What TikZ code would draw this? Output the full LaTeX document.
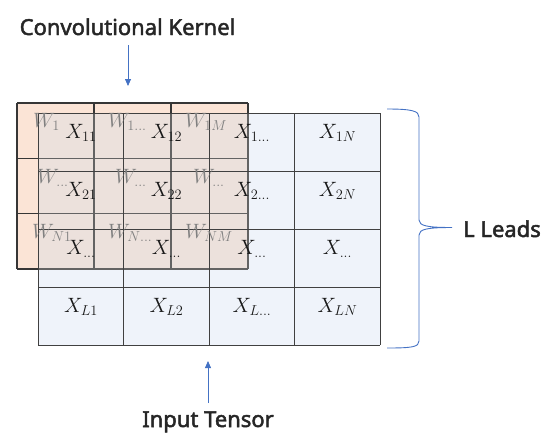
\documentclass[tikz,border=0pt]{standalone}
\usepackage{fontspec}
\newfontfamily\labfont{Noto Sans}[FakeBold=2.2]
\usetikzlibrary{arrows.meta}
\definecolor{tblue}{HTML}{EFF3FA}
\definecolor{korange}{HTML}{FBE4D6}
\definecolor{overlapc}{HTML}{ECE1DC}
\definecolor{accent}{HTML}{4472C4}
\definecolor{gridline}{HTML}{404040}
\definecolor{gridsoft}{HTML}{636363}
\definecolor{wgray}{HTML}{808080}
\begin{document}
\begin{tikzpicture}[x=1pt,y=-1pt,
  lab/.style={font=\labfont\fontsize{22}{26}\selectfont, text=black!85, inner sep=0pt},
  xlab/.style={font=\fontsize{20}{24}\selectfont, text=black!90, inner sep=0pt, anchor=base},
  wlab/.style={font=\fontsize{20}{24}\selectfont, text=wgray, inner sep=0pt, anchor=base west},
  arr/.style={draw=accent, line width=0.8pt, -{Triangle[length=7pt,width=6pt]}},
  gline/.style={draw=gridline, line width=0.9pt},
  kline/.style={draw=gridline!85!black, line width=1.2pt},
  ksoft/.style={draw=gridsoft, line width=1.2pt},
]
\useasboundingbox (0,0) rectangle (553,442);
% input tensor
\fill[tblue] (38,113) rectangle (380,345);
% kernel
\fill[korange] (17,103) rectangle (248,269);
\fill[overlapc] (38,113) rectangle (248,269);
% kernel grid lines (dark outside the overlap, softer inside)
\foreach \x in {17,94,171,248} \draw[kline] (\x,103) -- (\x,269);
\foreach \y in {103,158.33,213.67,269} \draw[kline] (17,\y) -- (248,\y);
\begin{scope}
\clip (38.6,113.6) rectangle (380,269);
\foreach \x in {94,171,248} \draw[ksoft] (\x,103) -- (\x,269);
\foreach \y in {158.33,213.67,269} \draw[ksoft] (17,\y) -- (248,\y);
\end{scope}
% input grid lines
\foreach \x in {38,123.5,209,294.5,380} \draw[gline] (\x,113) -- (\x,345);
\foreach \y in {113,171,229,287,345} \draw[gline] (38,\y) -- (380,\y);
% W labels
\node[wlab] (w11) at (33,127) {$W_{1}$};
\node[wlab] (w12) at (108,127) {$W_{1\ldots}$};
\node[wlab] (w13) at (185,127) {$W_{1M}$};
\node[wlab] (w21) at (37,183) {$W_{\ldots}$};
\node[wlab] (w22) at (115,183) {$W_{\ldots}$};
\node[wlab] (w23) at (193,183) {$W_{\ldots}$};
\node[wlab] (w31) at (32,238) {$W_{N1}$};
\node[wlab] (w32) at (108,238) {$W_{N\ldots}$};
\node[wlab] (w33) at (185,238) {$W_{NM}$};
% X labels
\foreach \t [count=\k from 0] in {{11},{12},{1\ldots},{1N},{21},{22},{2\ldots},{2N},{\ldots},{\ldots},{\ldots},{\ldots},{L1},{L2},{L\ldots},{LN}} {
  \pgfmathtruncatemacro\col{mod(\k,4)}
  \pgfmathtruncatemacro\row{div(\k,4)}
  \node[xlab] (x\row\col) at ({81+85.5*\col},{138.5+58*\row}) {$X_{\t}$};
}
% brace
\draw[accent, line width=0.9pt] (387,109) .. controls (412,109) and (419,111) .. (419,117)
  -- (419,220) .. controls (419,226) and (428,227.5) .. (452,227.5)
  .. controls (428,227.5) and (419,229) .. (419,235)
  -- (419,341) .. controls (419,347) and (412,348) .. (387,348);
% labels and arrows
\node[lab, anchor=base] (ck) at (127.5,35) {Convolutional Kernel};
\node[lab, anchor=base] (it) at (208,427) {Input Tensor};
\node[lab, anchor=base west] (ll) at (463,237) {L Leads};
\coordinate (cka) at (128,45);
\coordinate (ckb) at (128,86);
\draw[arr] (cka) -- (ckb);
\coordinate (ita) at (208,403);
\coordinate (itb) at (208,361);
\draw[arr] (ita) -- (itb);
\end{tikzpicture}
\end{document}
